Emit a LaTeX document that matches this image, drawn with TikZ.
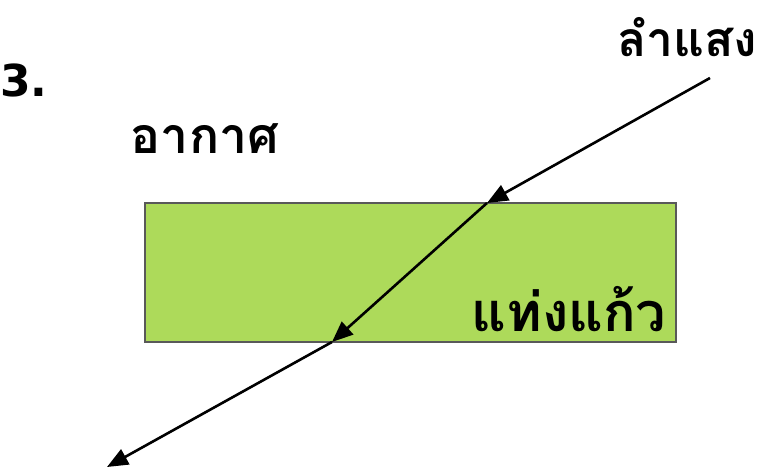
\documentclass[tikz,border=0pt]{standalone}
\usepackage{fontspec}
\newfontfamily\thaifont[Script=Thai]{Loma}
\newfontfamily\numfont{DejaVu Sans}
\usetikzlibrary{arrows.meta}
\definecolor{glassgreen}{RGB}{173,218,90}
\newcommand{\lblsize}[1]{\fontsize{#1}{#1}\selectfont}
\tikzset{label/.style={inner sep=0pt, font=\thaifont\bfseries}}
\tikzset{ray/.style={line width=2.6pt, -{Triangle[length=21pt,width=17pt]}}}
\tikzset{glass/.style={fill=glassgreen, draw=black!65, line width=1.2pt}}

\begin{document}
\begin{tikzpicture}[x=1pt,y=-1pt]
\useasboundingbox (0,0) rectangle (761,470);

\draw[glass] (145,203) rectangle (676,342);

\node[inner sep=0pt, font=\numfont\bfseries\lblsize{44}] (num) at (24,80) {3.};
\node[label] (ray) at (687,37) {\lblsize{48}ลำแสง};
\node[label] (air) at (205,139) {\lblsize{50}อากาศ};
\node[label] (rod) at (569,309) {\lblsize{54}แท่งแก้ว};

\coordinate (src) at (710,78);
\coordinate (entry) at (487,203);
\coordinate (exit) at (332,342);
\coordinate (dst) at (107,467);

\draw[ray] (src) -- (entry);
\draw[ray] (entry) -- (exit);
\draw[ray] (exit) -- (dst);

\end{tikzpicture}
\end{document}
